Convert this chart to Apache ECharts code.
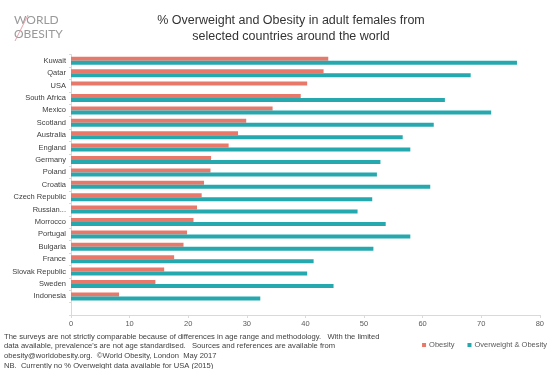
<!DOCTYPE html>
<html>
<head>
<meta charset="utf-8">
<script src="https://cdn.jsdelivr.net/npm/echarts@6/dist/echarts.min.js"></script>
<style>
  html, body { margin: 0; padding: 0; background: #fff; }
  #chart { width: 547px; height: 369px; }
</style>
</head>
<body>
<div id="chart"></div>
<script>
// countries top to bottom, last one is the blank slot Excel leaves at the bottom
const countries = ['Kuwait', 'Qatar', 'USA', 'South Africa', 'Mexico', 'Scotland', 'Australia',
    'England', 'Germany', 'Poland', 'Croatia', 'Czech Republic', 'Russian...', 'Morrocco',
    'Portugal', 'Bulgaria', 'France', 'Slovak Republic', 'Sweden', 'Indonesia', ''];

const obesity = [43.9, 43.1, 40.3, 39.2, 34.4, 29.9, 28.5, 26.9, 23.9, 23.8,
    22.7, 22.3, 21.5, 20.9, 19.8, 19.2, 17.6, 15.9, 14.4, 8.2, null];

const overweightObesity = [76.1, 68.2, null, 63.8, 71.7, 61.9, 56.6, 57.9, 52.8, 52.2,
    61.3, 51.4, 48.9, 53.7, 57.9, 51.6, 41.4, 40.3, 44.8, 32.3, null];

const xTicks = {min: 0, max: 80, step: 10};

const footnote = [
    'The surveys are not strictly comparable because of differences in age range and methodology.   With the limited',
    'data available, prevalence\'s are not age standardised.   Sources and references are available from',
    'obesity@worldobesity.org.  \u00A9World Obesity, London  May 2017',
    'NB.  Currently no % Overweight data available for USA (2015)'
];

const font = 'Liberation Sans, Arial, sans-serif';

let chart = echarts.init(document.getElementById('chart'));

let option = {
    backgroundColor: '#fff',
    animation: false,
    title: {
        text: '% Overweight and Obesity in adult females from\nselected countries around the world',
        left: 286,
        top: 8,
        textAlign: 'center',
        textStyle: {
            fontFamily: font,
            fontSize: 12.5,
            fontWeight: 'normal',
            color: '#333',
            lineHeight: 15.5
        }
    },
    legend: {
        right: 0,
        top: 341,
        padding: 0,
        itemWidth: 4,
        itemHeight: 4,
        itemGap: 13,
        icon: 'rect',
        textStyle: {fontFamily: font, fontSize: 7.5, color: '#595959', padding: [0, 0, 0, -2]},
        data: ['Obesity', 'Overweight & Obesity']
    },
    grid: {
        left: 71,
        right: 2,
        top: 54.6,
        bottom: 54
    },
    xAxis: {
        type: 'value',
        min: xTicks.min,
        max: xTicks.max,
        interval: xTicks.step,
        axisLine: {show: true, lineStyle: {color: '#d9d9d9'}},
        axisTick: {show: true, length: 3, lineStyle: {color: '#d9d9d9'}},
        splitLine: {show: false},
        axisLabel: {fontFamily: font, fontSize: 7.5, color: '#595959', margin: 5}
    },
    yAxis: {
        type: 'category',
        inverse: true,
        data: countries,
        axisLine: {show: true, lineStyle: {color: '#d9d9d9'}},
        axisTick: {show: true, length: 2, lineStyle: {color: '#d9d9d9'}},
        axisLabel: {fontFamily: font, fontSize: 7.5, color: '#404040', margin: 5}
    },
    series: [
        {
            name: 'Obesity',
            type: 'bar',
            data: obesity,
            barWidth: 4,
            barGap: '0%',
            itemStyle: {color: '#E8786A'}
        },
        {
            name: 'Overweight & Obesity',
            type: 'bar',
            data: overweightObesity,
            barWidth: 4,
            itemStyle: {color: '#25A9AF'}
        }
    ],
    graphic: [
        {
            type: 'text',
            left: 4,
            top: 332,
            style: {
                text: footnote.join('\n'),
                fontFamily: font,
                fontSize: 7.6,
                lineHeight: 9.6,
                fill: '#404040'
            }
        },
        // World Obesity logo
        {
            type: 'text',
            left: 14,
            top: 14,
            style: {text: 'WORLD', fontFamily: 'Lato, sans-serif', fontSize: 12, fill: '#999'}
        },
        {
            type: 'text',
            left: 14,
            top: 28,
            style: {text: 'OBESITY', fontFamily: 'Lato, sans-serif', fontSize: 12, fill: '#999'}
        },
        {
            type: 'line',
            shape: {x1: 28, y1: 15, x2: 15, y2: 41},
            style: {stroke: '#e8a0a8', lineWidth: 1}
        }
    ]
};

chart.setOption(option);
</script>
</body>
</html>
